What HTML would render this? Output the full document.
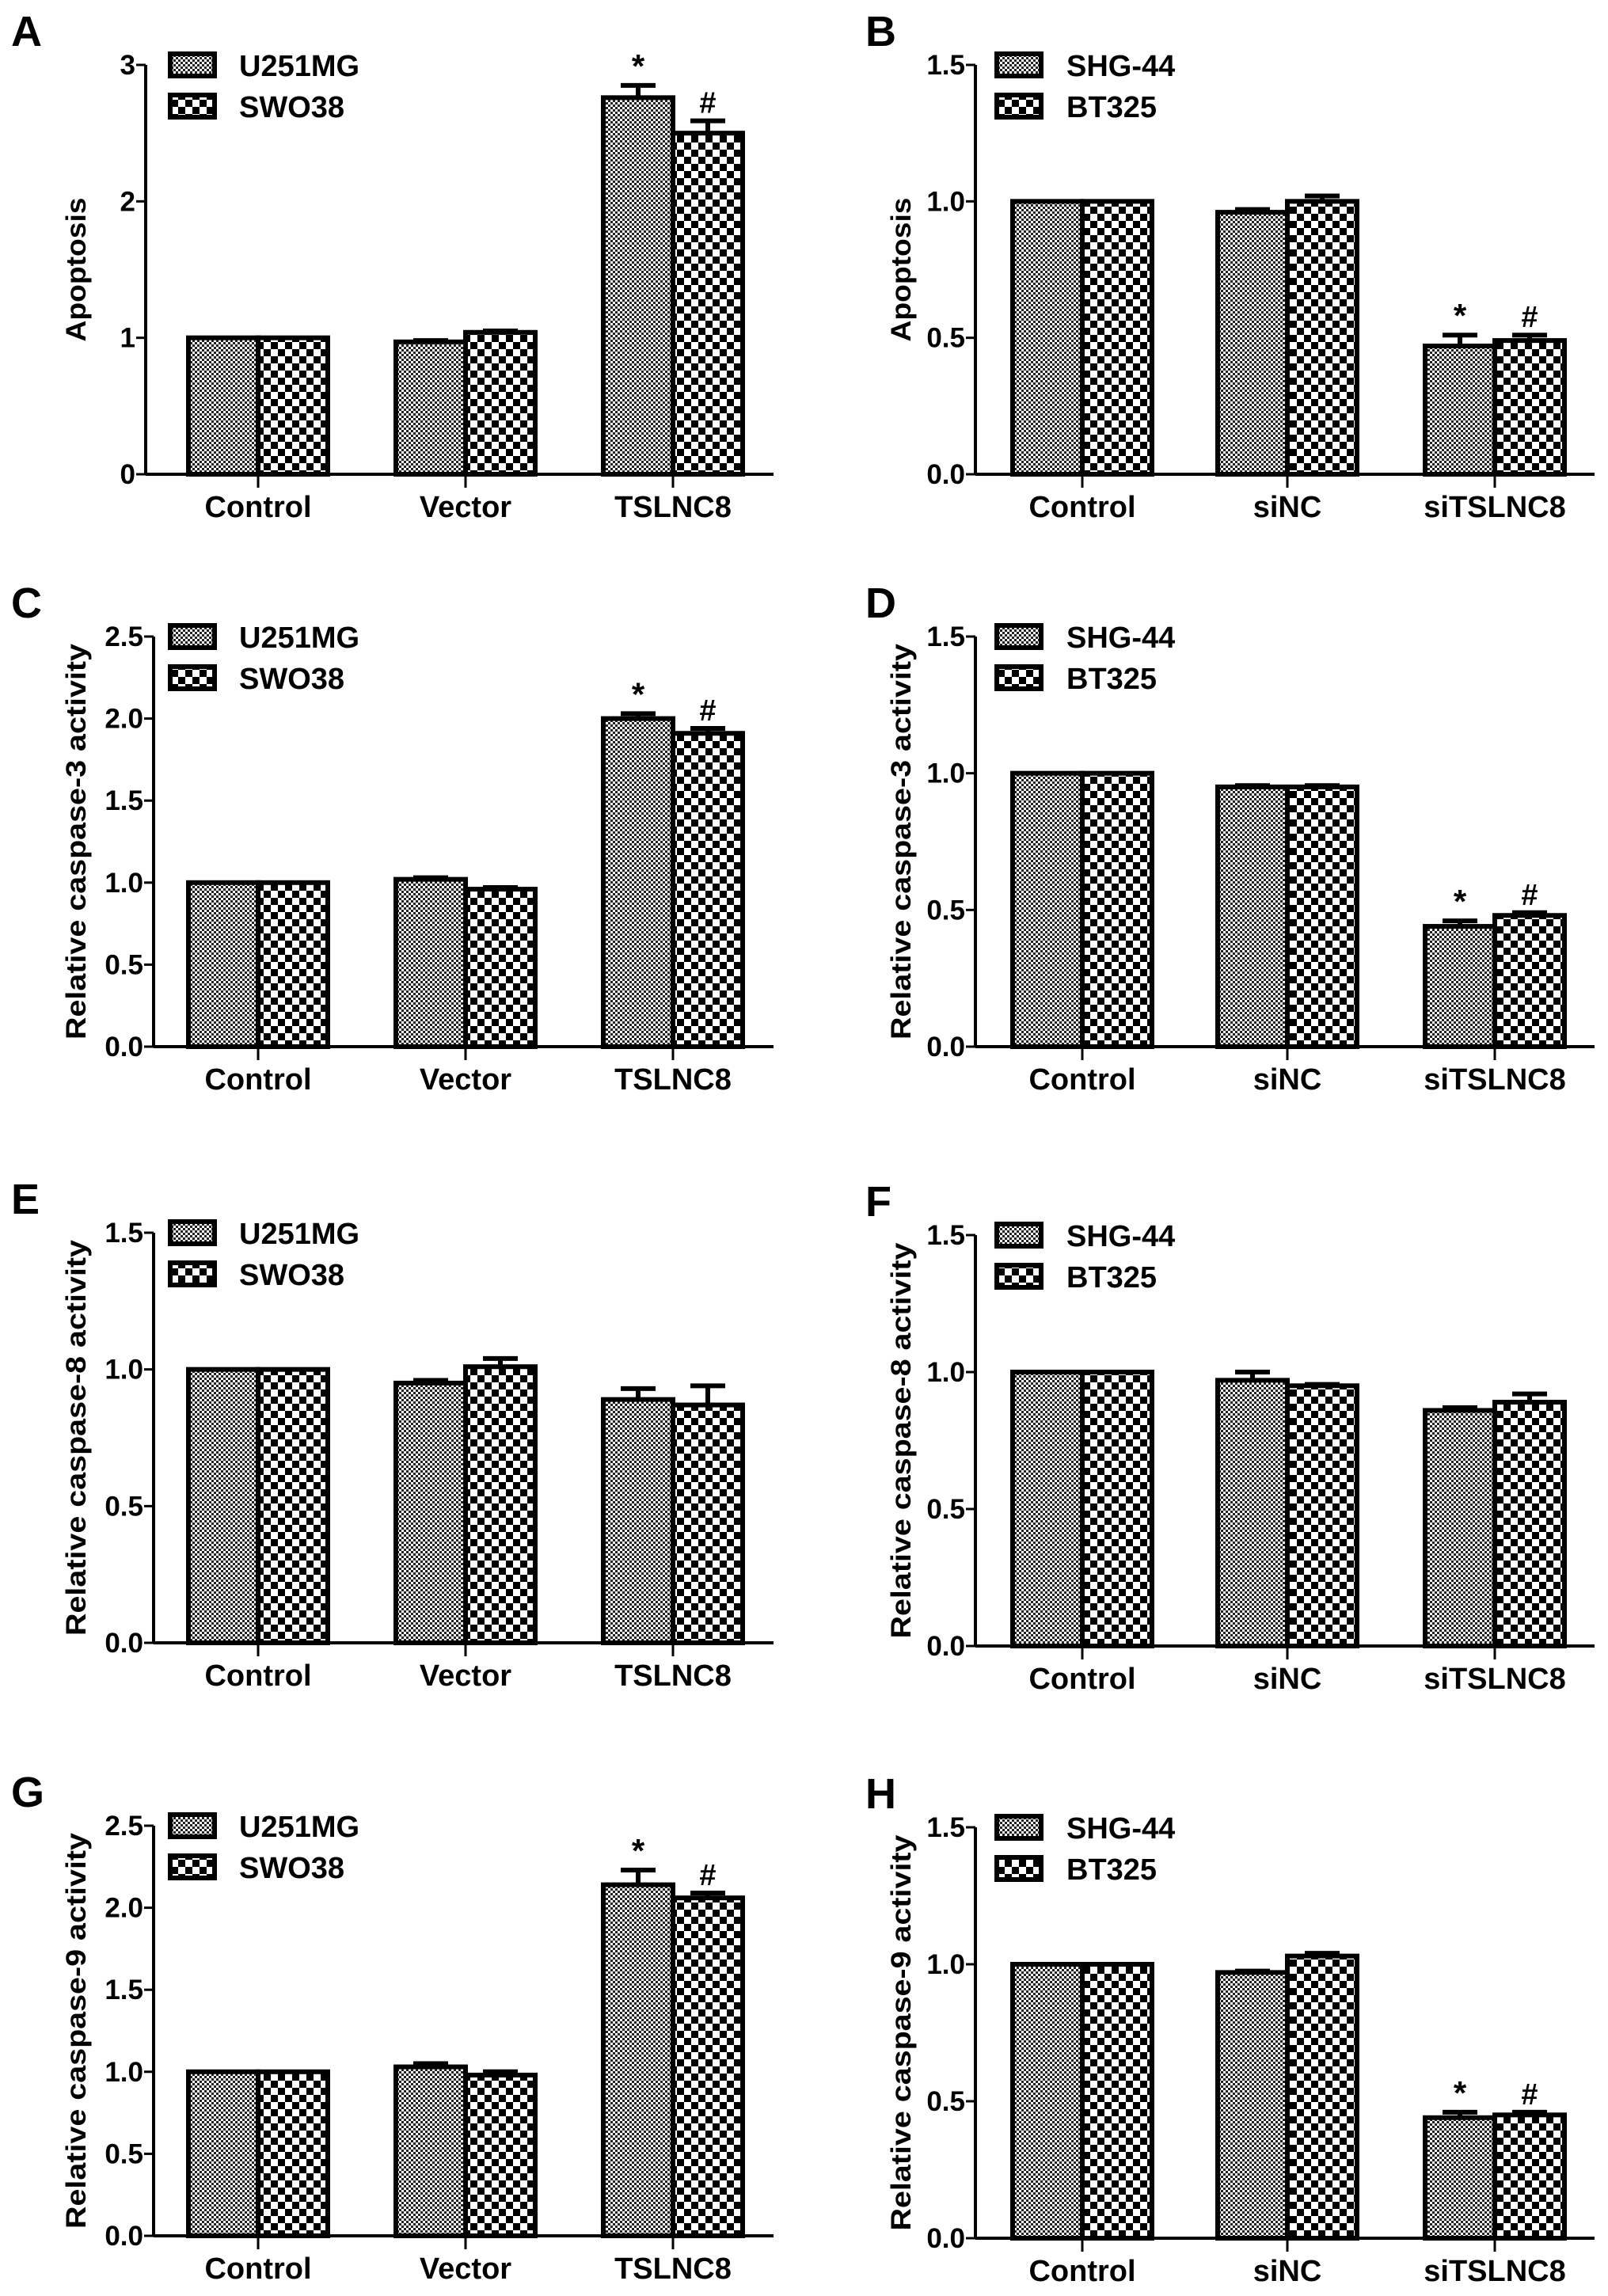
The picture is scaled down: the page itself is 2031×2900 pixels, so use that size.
<!DOCTYPE html>
<html><head><meta charset="utf-8">
<style>
html,body{margin:0;padding:0;background:#fff;}
svg{display:block;font-family:"Liberation Sans",Arial,sans-serif;font-weight:bold;}
</style></head>
<body>
<svg id="fig" width="2031" height="2900" viewBox="0 0 2031 2900" xmlns="http://www.w3.org/2000/svg">
<defs>
<pattern id="fine" width="6" height="6" patternUnits="userSpaceOnUse">
<rect width="6" height="6" fill="#fff"/><rect width="3" height="3" fill="#222"/><rect x="3" y="3" width="3" height="3" fill="#222"/>
</pattern>
<pattern id="coarse" width="18" height="18" patternUnits="userSpaceOnUse">
<rect width="18" height="18" fill="#fff"/><rect width="9" height="9" fill="#000"/><rect x="9" y="9" width="9" height="9" fill="#000"/>
</pattern>
</defs>
</svg>
<script>
// ---- data ----
const catsLeft = ["Control","Vector","TSLNC8"];
const catsRight = ["Control","siNC","siTSLNC8"];
const seriesLeft = ["U251MG","SWO38"];
const seriesRight = ["SHG-44","BT325"];

const aS1 = [1.00, 0.97, 2.76]; const aS2 = [1.00, 1.04, 2.50];
const aE1 = [0, 0.01, 0.09];    const aE2 = [0, 0.01, 0.09];
const bS1 = [1.00, 0.96, 0.47]; const bS2 = [1.00, 1.00, 0.49];
const bE1 = [0, 0.01, 0.04];    const bE2 = [0, 0.02, 0.02];
const cS1 = [1.00, 1.02, 2.00]; const cS2 = [1.00, 0.96, 1.91];
const cE1 = [0, 0.01, 0.03];    const cE2 = [0, 0.01, 0.03];
const dS1 = [1.00, 0.95, 0.44]; const dS2 = [1.00, 0.95, 0.48];
const dE1 = [0, 0.005, 0.02];   const dE2 = [0, 0.005, 0.01];
const eS1 = [1.00, 0.95, 0.89]; const eS2 = [1.00, 1.01, 0.87];
const eE1 = [0, 0.01, 0.04];    const eE2 = [0, 0.03, 0.07];
const fS1 = [1.00, 0.97, 0.86]; const fS2 = [1.00, 0.95, 0.89];
const fE1 = [0, 0.03, 0.01];    const fE2 = [0, 0.005, 0.03];
const gS1 = [1.00, 1.03, 2.14]; const gS2 = [1.00, 0.98, 2.06];
const gE1 = [0, 0.02, 0.09];    const gE2 = [0, 0.02, 0.03];
const hS1 = [1.00, 0.97, 0.44]; const hS2 = [1.00, 1.03, 0.45];
const hE1 = [0, 0.005, 0.02];   const hE2 = [0, 0.01, 0.01];

const ticks3 = [0,1,2,3]; const tickLbl3 = ["0","1","2","3"];
const ticks15 = [0,0.5,1.0,1.5]; const tickLbl15 = ["0.0","0.5","1.0","1.5"];
const ticks25 = [0,0.5,1.0,1.5,2.0,2.5]; const tickLbl25 = ["0.0","0.5","1.0","1.5","2.0","2.5"];
const sigA = ["*","#"]; const sigB = ["*","#"];

// ---- layout ----
const NS = "http://www.w3.org/2000/svg";
const svg = document.getElementById("fig");
function mk(tag, attrs, parent){const e=document.createElementNS(NS,tag);for(const k in attrs)e.setAttribute(k,attrs[k]);(parent||svg).appendChild(e);return e;}

const panels = [
 {id:"a",letter:"A",side:"L",ax:184,top:82,bot:599,max:3,ticks:ticks3,tl:tickLbl3,title:"Apoptosis",s1:aS1,s2:aS2,e1:aE1,e2:aE2,sig:true},
 {id:"b",letter:"B",side:"R",ax:1232,top:82,bot:599,max:1.5,ticks:ticks15,tl:tickLbl15,title:"Apoptosis",s1:bS1,s2:bS2,e1:bE1,e2:bE2,sig:true},
 {id:"c",letter:"C",side:"L",ax:194,top:804,bot:1322,max:2.5,ticks:ticks25,tl:tickLbl25,title:"Relative caspase-3 activity",s1:cS1,s2:cS2,e1:cE1,e2:cE2,sig:true},
 {id:"d",letter:"D",side:"R",ax:1232,top:804,bot:1322,max:1.5,ticks:ticks15,tl:tickLbl15,title:"Relative caspase-3 activity",s1:dS1,s2:dS2,e1:dE1,e2:dE2,sig:true},
 {id:"e",letter:"E",side:"L",ax:194,top:1557,bot:2075,max:1.5,ticks:ticks15,tl:tickLbl15,title:"Relative caspase-8 activity",s1:eS1,s2:eS2,e1:eE1,e2:eE2,sig:false},
 {id:"f",letter:"F",side:"R",ax:1232,top:1560,bot:2079,max:1.5,ticks:ticks15,tl:tickLbl15,title:"Relative caspase-8 activity",s1:fS1,s2:fS2,e1:fE1,e2:fE2,sig:false},
 {id:"g",letter:"G",side:"L",ax:194,top:2306,bot:2824,max:2.5,ticks:ticks25,tl:tickLbl25,title:"Relative caspase-9 activity",s1:gS1,s2:gS2,e1:gE1,e2:gE2,sig:true},
 {id:"h",letter:"H",side:"R",ax:1232,top:2308,bot:2827,max:1.5,ticks:ticks15,tl:tickLbl15,title:"Relative caspase-9 activity",s1:hS1,s2:hS2,e1:hE1,e2:hE2,sig:true}
];

panels.forEach(p=>{
  const L = p.side==="L";
  const cats = L?catsLeft:catsRight;
  const ser = L?seriesLeft:seriesRight;
  const centers = L?[326,588,850]:[1367,1626,1888];
  const axEnd = L?977:2014;
  const bw = 88;
  const g = mk("g",{});
  
  
  const y = v => p.bot - (v/p.max)*(p.bot-p.top);

  const letter = mk("text",{x:L?14:1093,y:p.top-24,"font-size":54},g);
  letter.textContent=p.letter;
  
  

  // bars
  for(let i=0;i<cats.length;i++){
    const vals=[p.s1[i],p.s2[i]], errs=[p.e1[i],p.e2[i]];
    for(let s=0;s<2;s++){
      const x0 = centers[i] + (s===0?-bw:0);
      const yt=y(vals[s]);
      const r=mk("rect",{x:x0,y:yt,width:bw,height:p.bot-yt,fill:s===0?"url(#fine)":"url(#coarse)",stroke:"#000","stroke-width":6},g);
      
      
      if(errs[s]>0){
        const cx=x0+bw/2, ye=y(vals[s]+errs[s]);
        const eb=mk("path",{d:`M${cx},${yt} V${ye} M${cx-22},${ye} H${cx+22}`,stroke:"#000","stroke-width":6,fill:"none"},g);
        
        
      }
      if(p.sig && i===2){
        const st=mk("text",{x:x0+bw/2,y:y(vals[s]+errs[s])-10,"font-size":s===0?42:38,"text-anchor":"middle"},g);
        st.textContent = s===0?sigA[0]:sigB[1];
        
        
      }
    }
  }
  // axes
  const axes=mk("path",{d:`M${p.ax},${p.top} V${p.bot} M${p.ax},${p.bot} H${axEnd}`,stroke:"#000","stroke-width":4,fill:"none"},g);
  
  
  p.ticks.forEach((t,k)=>{
    const ty=y(t);
    mk("line",{x1:p.ax-12,x2:p.ax,y1:ty,y2:ty,stroke:"#000","stroke-width":3},g);
    const tl=mk("text",{x:p.ax-13,y:ty+12,"font-size":35,"text-anchor":"end"},g);
    tl.textContent=p.tl[k];
    
    
  });
  cats.forEach((c,i)=>{
    mk("line",{x1:centers[i],x2:centers[i],y1:p.bot,y2:p.bot+17,stroke:"#000","stroke-width":3},g);
    const xl=mk("text",{x:centers[i],y:p.bot+54,"font-size":38,"text-anchor":"middle"},g);
    xl.textContent=c;
    
    
  });
  // y title
  const tx=L?96:1138, tyc=(p.top+p.bot)/2;
  const len = p.title==="Apoptosis"?182:500;
  const yt=mk("text",{x:0,y:0,"font-size":35,"text-anchor":"middle",transform:`translate(${tx+12},${tyc}) rotate(-90)`,textLength:len,lengthAdjust:"spacingAndGlyphs"},g);
  yt.textContent=p.title;
  
  
  // legend
  const lx=L?215:1259, tx2=L?302:1347;
  for(let s=0;s<2;s++){
    const cy=p.top+s*52;
    const lb=mk("rect",{x:lx,y:cy-14,width:56,height:28,fill:s===0?"url(#fine)":"url(#coarse)",stroke:"#000","stroke-width":6},g);
    
    
    const lt=mk("text",{x:tx2,y:cy+14,"font-size":38},g);
    lt.textContent=ser[s];
    
    
  }
});
</script>
</body></html>
